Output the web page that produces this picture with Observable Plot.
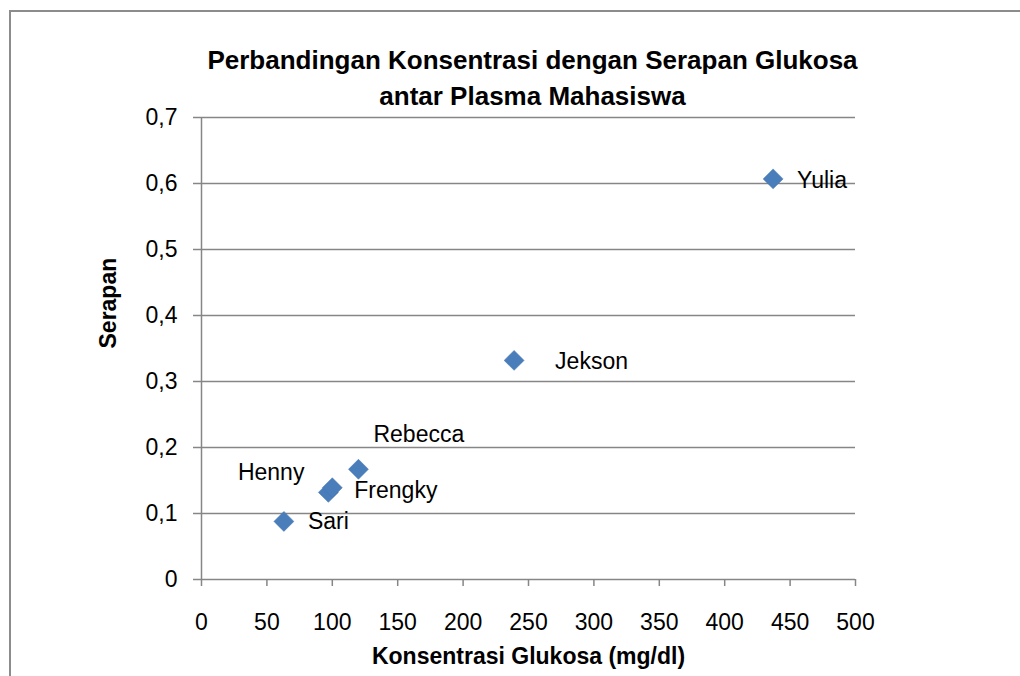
<!DOCTYPE html>
<html><head><meta charset="utf-8">
<script src="https://cdn.jsdelivr.net/npm/d3@7"></script>
<script src="https://cdn.jsdelivr.net/npm/@observablehq/plot@0.6"></script>
<style>
html,body{margin:0;padding:0;background:#fff;}
#wrap{position:relative;width:1020px;height:676px;overflow:hidden;}
#frame{position:absolute;left:9px;top:10px;width:1020px;height:700px;border-left:2px solid #8c8c8c;border-top:2px solid #8c8c8c;}
#chart{position:absolute;left:0;top:0;}
</style></head><body>
<div id="wrap"><div id="frame"></div><div id="chart"></div></div>
<script>
const names = ["Yulia", "Jekson", "Rebecca", "Henny", "Frengky", "Sari"];
const konsentrasi = [437, 239, 120, 97, 100, 63];
const serapan = [0.607, 0.332, 0.167, 0.132, 0.139, 0.088];
const xTicks = [0, 50, 100, 150, 200, 250, 300, 350, 400, 450, 500];
const yTicks = [0, 0.1, 0.2, 0.3, 0.4, 0.5, 0.6, 0.7];
const titleLines = ["Perbandingan Konsentrasi dengan Serapan Glukosa", "antar Plasma Mahasiswa"];
const xLabel = "Konsentrasi Glukosa (mg/dl)";
const yLabel = "Serapan";

// label placement (screen offsets from each point)
const labelDx = [24, 41, 15, -24, 22, 24];
const labelDy = [2, 1, -35, -20, 3, 0];
const labelAnchor = ["start", "start", "start", "end", "start", "start"];

const idx = names.map((_, i) => i);
const font = "'Liberation Sans', Arial, sans-serif";
const gray = "#868686";

const labelMarks = idx.map(i => Plot.text([i], {
  x: j => konsentrasi[j], y: j => serapan[j], text: j => names[j],
  dx: labelDx[i], dy: labelDy[i], textAnchor: labelAnchor[i],
  fontSize: 23, fill: "#000"
}));

const chart = Plot.plot({
  width: 1020, height: 676,
  marginLeft: 201, marginRight: 165, marginTop: 117, marginBottom: 97,
  x: {domain: [0, 500]},
  y: {domain: [0, 0.7]},
  style: {fontFamily: font, fontSize: "23px", color: "#000", background: "transparent", overflow: "visible"},
  marks: [
    Plot.gridY(yTicks.filter(d => d > 0), {stroke: gray, strokeOpacity: 1, strokeWidth: 1.5}),
    Plot.ruleY([0], {stroke: gray, strokeWidth: 1.5}),
    Plot.ruleX([0], {stroke: gray, strokeWidth: 1.5}),
    Plot.axisX(xTicks, {tickSize: 7, tickPadding: 27, stroke: gray, strokeWidth: 1.5, label: null, fill: "#000", fontSize: 23, tickFormat: d => String(d)}),
    Plot.axisY(yTicks, {tickSize: 8, tickPadding: 16, stroke: gray, strokeWidth: 1.5, label: null, fill: "#000", fontSize: 23,
      tickFormat: d => d === 0 ? "0" : d.toFixed(1).replace(".", ",")}),
    Plot.dot(idx, {x: i => konsentrasi[i], y: i => serapan[i], symbol: "diamond2", r: 9, fill: "#4A7EBB", stroke: "#4475b0", strokeWidth: 0.5}),
    ...labelMarks,
    Plot.text([titleLines[0]], {frameAnchor: "top", dx: 4, dy: -67, fontWeight: "bold", fontSize: 26, fill: "#000"}),
    Plot.text([titleLines[1]], {frameAnchor: "top", dx: 4, dy: -31, fontWeight: "bold", fontSize: 26, fill: "#000"}),
    Plot.text([xLabel], {frameAnchor: "bottom", dy: 84, fontWeight: "bold", fontSize: 23, fill: "#000"}),
    Plot.text([yLabel], {frameAnchor: "left", dx: -93, rotate: -90, fontWeight: "bold", fontSize: 23, fill: "#000"})
  ]
});
document.getElementById("chart").appendChild(chart);
</script>
</body></html>
